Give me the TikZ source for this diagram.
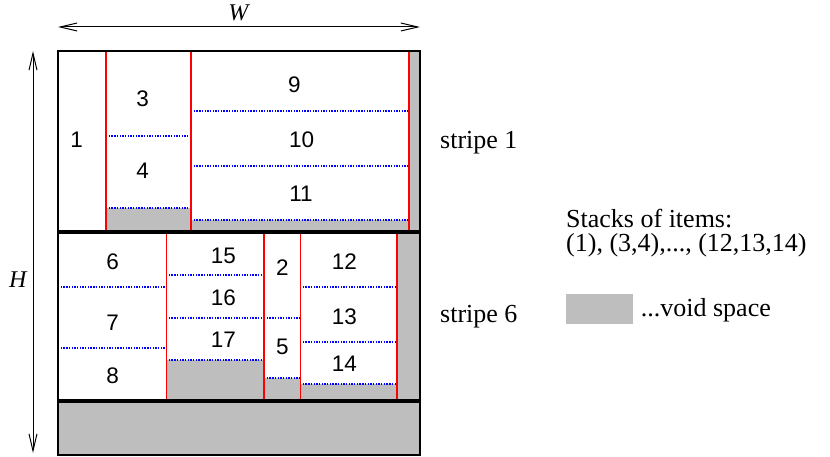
\documentclass[tikz,border=0pt]{standalone}
\usepackage{fontspec}
\setmainfont{Liberation Serif}
\newfontfamily\numfont{Liberation Sans}
\usetikzlibrary{arrows.meta}
\definecolor{voidgray}{RGB}{190,190,190}
\tikzset{
  item/.style={font=\numfont\fontsize{22.5}{24}\selectfont, inner sep=0pt},
  txt/.style={font=\fontsize{26}{30}\selectfont, inner sep=0pt, anchor=base west},
  wall/.style={red, line width=1.8pt},
  level/.style={blue, line width=1.6pt, dash pattern=on 1.4pt off 1.3pt},
  void/.style={fill=voidgray},
  dim/.style={line width=1pt, {Straight Barb[length=17pt,width=8pt]}-{Straight Barb[length=17pt,width=8pt]}}
}
\begin{document}
\begin{tikzpicture}[x=1pt,y=-1pt]
\useasboundingbox (0,0) rectangle (830,457);
% void space
\fill[voidgray] (106,208) rectangle (191,232);
\fill[voidgray] (191,220) rectangle (409,232);
\fill[voidgray] (409,51) rectangle (420,232);
\fill[voidgray] (166,360) rectangle (264,401);
\fill[voidgray] (264,378) rectangle (300,401);
\fill[voidgray] (300,384) rectangle (397,401);
\fill[voidgray] (397,232) rectangle (420,401);
\fill[voidgray] (58,401) rectangle (420,455);
% levels of the stacks
\draw[level] (106,136) -- (191,136);
\draw[level] (106,208) -- (191,208);
\draw[level] (191,111) -- (409,111);
\draw[level] (191,166) -- (409,166);
\draw[level] (191,220) -- (409,220);
\draw[level] (58,287) -- (166,287);
\draw[level] (58,348) -- (166,348);
\draw[level] (166,275) -- (264,275);
\draw[level] (166,318) -- (264,318);
\draw[level] (166,360) -- (264,360);
\draw[level] (264,318) -- (300,318);
\draw[level] (264,378) -- (300,378);
\draw[level] (300,287) -- (397,287);
\draw[level] (300,342) -- (397,342);
\draw[level] (300,384) -- (397,384);
% walls between stacks
\draw[wall] (106,51) -- (106,232);
\draw[wall] (191,51) -- (191,232);
\draw[wall] (409,51) -- (409,232);
\draw[wall] (166.5,232) -- (166.5,401);
\draw[wall] (264,232) -- (264,401);
\draw[wall] (300.5,232) -- (300.5,401);
\draw[wall] (397,232) -- (397,401);
% bin and stripes
\draw[line width=2.4pt] (58,51) rectangle (420,455);
\draw[line width=3.2pt] (58,232) -- (420,232);
\draw[line width=3.2pt] (58,401) -- (420,401);
% items
\node[item] (i1) at (76.7,140){1};
\node[item] (i3) at (142.7,98.3){3};
\node[item] (i4) at (142.7,170.7){4};
\node[item] (i9) at (294.3,85){9};
\node[item] (i10) at (301.7,140){10};
\node[item] (i11) at (301,194){11};
\node[item] (i6) at (112.7,261.7){6};
\node[item] (i7) at (112.7,322.3){7};
\node[item] (i8) at (112.7,376){8};
\node[item] (i15) at (223.3,255.7){15};
\node[item] (i16) at (223.3,297.3){16};
\node[item] (i17) at (223.3,340){17};
\node[item] (i2) at (282.3,267.7){2};
\node[item] (i5) at (282.3,346.7){5};
\node[item] (i12) at (344.3,261.7){12};
\node[item] (i13) at (344.3,316.7){13};
\node[item] (i14) at (344.3,364){14};
% dimensions
\coordinate (wl) at (58,27);
\coordinate (wr) at (420,27);
\coordinate (ht) at (33,51);
\coordinate (hb) at (33,453);
\draw[dim] (wl) -- (wr);
\draw[dim] (ht) -- (hb);
\node[font=\itshape\fontsize{24}{28}\selectfont, inner sep=0pt] (wlab) at (238.3,13.3){W};
\node[font=\itshape\fontsize{24}{28}\selectfont, inner sep=0pt] (hlab) at (17.7,280){H};
% legend
\node[txt] (s1) at (440,149){stripe 1};
\node[txt] (s6) at (440,322.7){stripe 6};
\node[txt] (stk) at (566,227.7){Stacks of items:};
\node[txt] (stl) at (566,251.7){(1), (3,4),..., (12,13,14)};
\node[void, inner sep=0pt, minimum width=67pt, minimum height=30pt, anchor=north west] (vbox) at (566,293.3){};
\node[txt] (vtxt) at (640.7,316){...void space};
\end{tikzpicture}
\end{document}
